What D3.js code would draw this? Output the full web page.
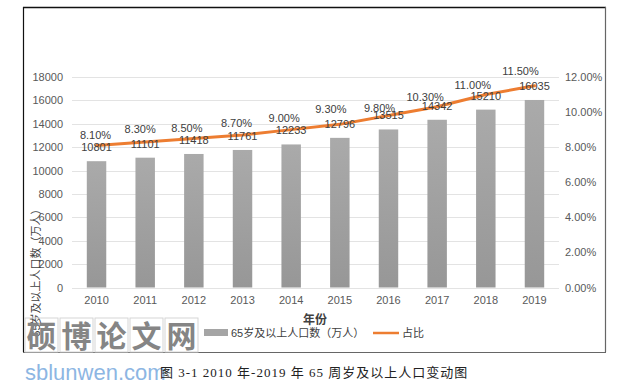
<!DOCTYPE html>
<html>
<head>
<meta charset="utf-8">
<script src="https://cdn.jsdelivr.net/npm/d3@7"></script>
<style>
  body { margin: 0; background: #fff; }
  text { font-family: "Liberation Sans", "Noto Sans CJK SC", sans-serif; }
</style>
</head>
<body>
<div id="chart"></div>
<script>
var years = ['2010', '2011', '2012', '2013', '2014', '2015', '2016', '2017', '2018', '2019'];
var population = [10801, 11101, 11418, 11761, 12233, 12796, 13515, 14342, 15210, 16035];
var share = [8.1, 8.3, 8.5, 8.7, 9.0, 9.3, 9.8, 10.3, 11.0, 11.5];
var leftTicks = [0, 2000, 4000, 6000, 8000, 10000, 12000, 14000, 16000, 18000];
var rightTicks = [0, 2, 4, 6, 8, 10, 12];

// hand-dragged label offsets in the original (px)
var pctDx = [-1, -5, -7, -6, -7, -9, -9, -12, -13, -14];
var pctDy = [-10, -13, -10, -12, -12, -15, -8, -10, -10, -15];

var width = 638, height = 389;
var svg = d3.select('#chart').append('svg').attr('width', width).attr('height', height);

var defs = svg.append('defs');
var grad = defs.append('linearGradient').attr('id', 'barGrad')
    .attr('x1', 0).attr('y1', 0).attr('x2', 0).attr('y2', 1);
grad.append('stop').attr('offset', '0%').attr('stop-color', '#aaaaaa');
grad.append('stop').attr('offset', '100%').attr('stop-color', '#979797');

var x = d3.scaleBand().domain(years).range([72.2, 558.8]).paddingInner(0.6).paddingOuter(0.3);
var yL = d3.scaleLinear().domain([0, 18000]).range([287.5, 77]);
var yR = d3.scaleLinear().domain([0, 12]).range([287.5, 77]);

// gridlines
svg.append('g').selectAll('line').data(leftTicks).enter().append('line')
    .attr('x1', 72).attr('x2', 559)
    .attr('y1', function (d) { return Math.round(yL(d)) + 0.5; })
    .attr('y2', function (d) { return Math.round(yL(d)) + 0.5; })
    .attr('stroke', '#e3e3e3').attr('stroke-width', 1);

// left axis
var axL = svg.append('g').attr('transform', 'translate(66,0)')
    .call(d3.axisLeft(yL).tickValues(leftTicks).tickSize(0).tickPadding(3).tickFormat(d3.format('d')));
axL.select('.domain').remove();
axL.selectAll('text').attr('fill', '#595959').style('font-size', '11px');

// right axis
var axR = svg.append('g').attr('transform', 'translate(562,0)')
    .call(d3.axisRight(yR).tickValues(rightTicks).tickSize(0).tickPadding(3)
        .tickFormat(function (d) { return d.toFixed(2) + '%'; }));
axR.select('.domain').remove();
axR.selectAll('text').attr('fill', '#595959').style('font-size', '11px');

// x axis
var axX = svg.append('g').attr('transform', 'translate(0,288)')
    .call(d3.axisBottom(x).tickSize(0).tickPadding(8));
axX.select('.domain').remove();
axX.selectAll('text').attr('fill', '#595959').style('font-size', '11px');

// bars
svg.append('g').selectAll('rect').data(population).enter().append('rect')
    .attr('x', function (d, i) { return x(years[i]); })
    .attr('width', x.bandwidth())
    .attr('y', function (d) { return yL(d); })
    .attr('height', function (d) { return yL(0) - yL(d); })
    .attr('fill', 'url(#barGrad)');

// line
var line = d3.line()
    .x(function (d, i) { return x(years[i]) + x.bandwidth() / 2; })
    .y(function (d) { return yR(d); });
svg.append('path').datum(share)
    .attr('d', line)
    .attr('fill', 'none')
    .attr('stroke', '#ed7d31')
    .attr('stroke-width', 3)
    .attr('stroke-linecap', 'round');

// value labels
svg.append('g').selectAll('text').data(population).enter().append('text')
    .attr('x', function (d, i) { return x(years[i]) + x.bandwidth() / 2; })
    .attr('y', function (d) { return yL(d) - 10; })
    .attr('text-anchor', 'middle')
    .attr('fill', '#404040')
    .style('font-size', '11px')
    .text(function (d) { return d; });

// percentage labels
svg.append('g').selectAll('text').data(share).enter().append('text')
    .attr('x', function (d, i) { return x(years[i]) + x.bandwidth() / 2 + pctDx[i]; })
    .attr('y', function (d, i) { return yR(d) + pctDy[i] + 4; })
    .attr('text-anchor', 'middle')
    .attr('fill', '#404040')
    .style('font-size', '11px')
    .text(function (d) { return d.toFixed(2) + '%'; });

// axis titles
svg.append('text').attr('x', 315).attr('y', 324)
    .attr('text-anchor', 'middle').attr('fill', '#404040')
    .style('font-size', '12px').style('font-weight', 'bold')
    .text('年份');

svg.append('text')
    .attr('transform', 'translate(40,270) rotate(-90)')
    .attr('text-anchor', 'middle').attr('fill', '#404040')
    .style('font-size', '11px')
    .text('65岁及以上人口数（万人）');

// legend
var lg = svg.append('g').attr('transform', 'translate(0,333)');
lg.append('rect').attr('x', 204).attr('y', -4).attr('width', 24).attr('height', 7).attr('fill', '#a5a5a5');
lg.append('text').attr('x', 231).attr('y', 4).attr('fill', '#404040').style('font-size', '11px')
    .text('65岁及以上人口数（万人）');
lg.append('line').attr('x1', 373).attr('x2', 399).attr('y1', 0).attr('y2', 0)
    .attr('stroke', '#ed7d31').attr('stroke-width', 2.5);
lg.append('text').attr('x', 402).attr('y', 4).attr('fill', '#404040').style('font-size', '11px')
    .text('占比');

// chart frame
svg.append('line').attr('x1', 23).attr('x2', 606).attr('y1', 7.5).attr('y2', 7.5).attr('stroke', '#111').attr('stroke-width', 1.5);
svg.append('line').attr('x1', 23.5).attr('x2', 23.5).attr('y1', 7).attr('y2', 352).attr('stroke', '#111').attr('stroke-width', 1.2);
svg.append('line').attr('x1', 605.5).attr('x2', 605.5).attr('y1', 7).attr('y2', 352).attr('stroke', '#666').attr('stroke-width', 1.2);
svg.append('line').attr('x1', 23).attr('x2', 606).attr('y1', 352.5).attr('y2', 352.5).attr('stroke', '#666').attr('stroke-width', 1.2);

// watermark
var wm = svg.append('g');
var wmChars = ['硕', '博', '论', '文', '网'];
wm.selectAll('rect').data(wmChars).enter().append('rect')
    .attr('x', function (d, i) { return 25 + i * 35; })
    .attr('y', 318).attr('width', 33).attr('height', 34)
    .attr('fill', 'none').attr('stroke', '#d5d5d5').attr('stroke-width', 1);
wm.selectAll('text').data(wmChars).enter().append('text')
    .attr('x', function (d, i) { return 41.5 + i * 35; })
    .attr('y', 347)
    .attr('text-anchor', 'middle').attr('fill', '#858585')
    .style('font-size', '30px').style('font-weight', 'bold')
    .style('font-family', '"Noto Sans CJK SC", sans-serif')
    .text(function (d) { return d; });
wm.append('text').attr('x', 25).attr('y', 380).attr('fill', '#8db6e3')
    .style('font-size', '22px').text('sblunwen.com');

// caption
svg.append('text').attr('x', 160).attr('y', 377).attr('fill', '#222')
    .style('font-size', '13px').style('letter-spacing', '1px')
    .style('font-family', '"Liberation Serif", "Noto Sans CJK SC", serif')
    .text('图 3-1 2010 年-2019 年 65 周岁及以上人口变动图');
</script>
</body>
</html>
